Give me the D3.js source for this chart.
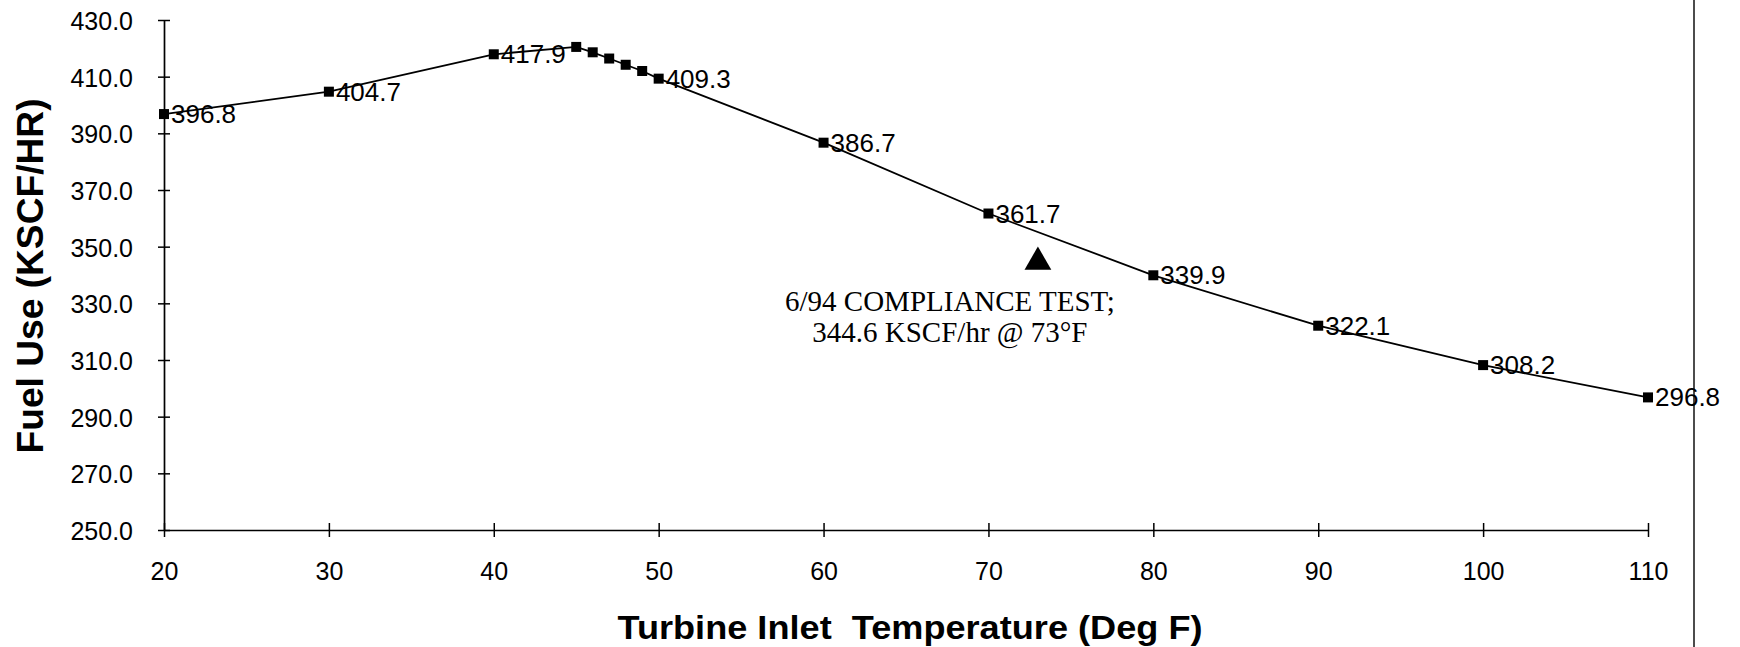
<!DOCTYPE html>
<html lang="en">

<head>
    <meta charset="UTF-8">
    <title>Fuel Use vs Turbine Inlet Temperature</title>
    <style>
        body {
            margin: 0;
            background: #fff;
        }

        svg text {
            fill: #000;
        }
    </style>
</head>

<body>
    <svg width="1740" height="647"></svg>
    <script src="https://d3js.org/d3.v7.min.js"></script>
    <script>

        // data
        const temps = [20, 30, 40, 45, 46, 47, 48, 49, 50, 60, 70, 80, 90, 100, 110];
        const fuel = [396.8, 404.7, 417.9, 420.5, 418.6, 416.4, 414.2, 412.0, 409.3, 386.7, 361.7, 339.9, 322.1, 308.2, 296.8];
        const labelTemps = [20, 30, 40, 50, 60, 70, 80, 90, 100, 110];
        const tempTicks = [20, 30, 40, 50, 60, 70, 80, 90, 100, 110];
        const fuelTicks = [250, 270, 290, 310, 330, 350, 370, 390, 410, 430];
        const testPoint = [73, 344.6];
        const testNote = ["6/94 COMPLIANCE TEST;", "344.6 KSCF/hr @ 73°F"];

        const sans = "'Liberation Sans', Arial, sans-serif",
            serif = "'Liberation Serif', 'Times New Roman', serif";

        let svg = d3.select("svg");

        let x = d3.scaleLinear().domain([20, 110]).range([164, 1648]),
            y = d3.scaleLinear().domain([250, 430]).range([530, 20]);

        // y axis
        let gy = svg.append("g")
            .attr("transform", "translate(164,0)")
            .call(d3.axisLeft(y).tickValues(fuelTicks).tickFormat(d3.format(".1f")).tickSizeOuter(0));
        gy.select(".domain").attr("stroke", "#000").attr("stroke-width", 1.7);
        gy.selectAll(".tick line").attr("x1", -6).attr("x2", 6).attr("stroke-width", 1.5);
        gy.selectAll(".tick text")
            .attr("x", -31).attr("dy", "0.38em")
            .style("font", "25px " + sans);

        // x axis
        let gx = svg.append("g")
            .attr("transform", "translate(0,530)")
            .call(d3.axisBottom(x).tickValues(tempTicks).tickSizeOuter(0));
        gx.select(".domain").attr("stroke", "#000").attr("stroke-width", 1.7);
        gx.selectAll(".tick line").attr("y1", -7).attr("y2", 7).attr("stroke-width", 1.5);
        gx.selectAll(".tick text")
            .attr("y", 50).attr("dy", 0)
            .style("font", "25px " + sans);

        // axis titles
        svg.append("text")
            .attr("x", 910).attr("y", 639)
            .attr("text-anchor", "middle")
            .attr("textLength", 585).attr("lengthAdjust", "spacingAndGlyphs")
            .style("white-space", "pre")
            .style("font", "bold 33px " + sans)
            .text("Turbine Inlet  Temperature (Deg F)");

        svg.append("text")
            .attr("transform", "translate(43,276) rotate(-90)")
            .attr("text-anchor", "middle")
            .attr("textLength", 355).attr("lengthAdjust", "spacingAndGlyphs")
            .style("font", "bold 37px " + sans)
            .text("Fuel Use (KSCF/HR)");

        // right frame line
        svg.append("line")
            .attr("x1", 1694).attr("x2", 1694)
            .attr("y1", 0).attr("y2", 647)
            .attr("stroke", "#111").attr("stroke-width", 1.5);

        // series
        let pts = temps.map((t, i) => ({ t: t, v: fuel[i] }));

        svg.append("path")
            .datum(pts)
            .attr("fill", "none")
            .attr("stroke", "#000")
            .attr("stroke-width", 1.8)
            .attr("d", d3.line().x(d => x(d.t)).y(d => y(d.v)));

        svg.selectAll("rect.pt")
            .data(pts)
            .join("rect")
            .attr("class", "pt")
            .attr("x", d => x(d.t) - 5)
            .attr("y", d => y(d.v) - 5)
            .attr("width", 10)
            .attr("height", 10)
            .attr("fill", "#000");

        svg.selectAll("text.lbl")
            .data(pts.filter(d => labelTemps.includes(d.t)))
            .join("text")
            .attr("class", "lbl")
            .attr("x", d => x(d.t) + 7)
            .attr("y", d => y(d.v) + 9)
            .style("font", "26px " + sans)
            .text(d => d.v.toFixed(1));

        // compliance test marker + note
        svg.append("path")
            .attr("transform", `translate(${x(testPoint[0])},${y(testPoint[1])})`)
            .attr("d", d3.symbol(d3.symbolTriangle, 310)())
            .attr("fill", "#000");

        svg.append("text")
            .attr("text-anchor", "middle")
            .style("font", "29px " + serif)
            .selectAll("tspan")
            .data(testNote)
            .join("tspan")
            .attr("x", x(testPoint[0]) - 88)
            .attr("y", (d, i) => y(testPoint[1]) + 49 + i * 31)
            .text(d => d);

    </script>
</body>

</html>
